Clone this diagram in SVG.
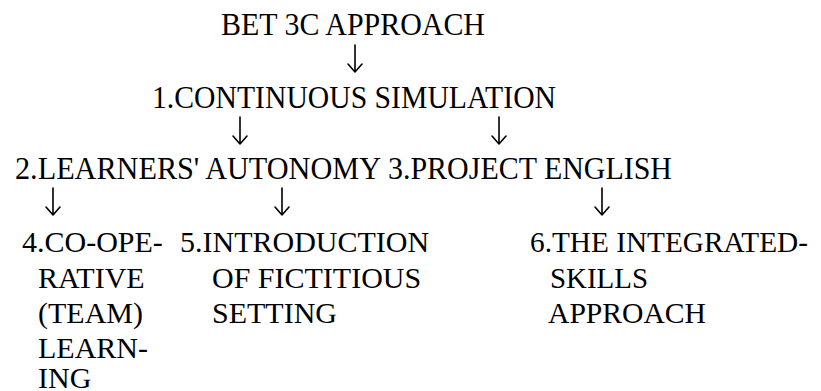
<svg xmlns="http://www.w3.org/2000/svg" width="821" height="391" viewBox="0 0 821 391">
  <style>
    .t { font-family: "Liberation Serif", "Times New Roman", serif; font-size: 31px; fill: #000; }
    .b { font-family: "Liberation Serif", "Times New Roman", serif; font-size: 30px; fill: #000; }
    .c { fill: none; stroke: #000; stroke-width: 1.6; stroke-linecap: round; stroke-linejoin: round; }
  </style>
  <defs>
    <!-- down arrow: shaft plus open chevron head -->
    <path id="down" class="c" d="M0,0 V27 M-7,19 L0,27 L7,19"/>
  </defs>
  <rect width="821" height="391" fill="#fff"/>

  <g id="connectors">
    <use href="#down" x="355" y="45"/>
    <use href="#down" x="240" y="117"/>
    <use href="#down" x="499" y="117"/>
    <use href="#down" x="53" y="188"/>
    <use href="#down" x="282" y="188"/>
    <use href="#down" x="602" y="188"/>
  </g>

  <g id="root">
    <text class="t" x="221" y="35" textLength="264" lengthAdjust="spacingAndGlyphs">BET 3C APPROACH</text>
  </g>
  <g id="n1">
    <text class="t" x="152" y="108" textLength="404" lengthAdjust="spacingAndGlyphs">1.CONTINUOUS SIMULATION</text>
  </g>
  <g id="n2">
    <text class="t" x="15" y="179" textLength="366" lengthAdjust="spacingAndGlyphs">2.LEARNERS' AUTONOMY</text>
  </g>
  <g id="n3">
    <text class="t" x="388" y="179" textLength="284" lengthAdjust="spacingAndGlyphs">3.PROJECT ENGLISH</text>
  </g>
  <g id="n4">
    <text class="b" x="22" y="252">4.CO-OPE-</text>
    <text class="b" x="38" y="288">RATIVE</text>
    <text class="b" x="38" y="323">(TEAM)</text>
    <text class="b" x="38" y="358">LEARN-</text>
    <text class="b" x="38" y="388">ING</text>
  </g>
  <g id="n5">
    <text class="b" x="180" y="252">5.INTRODUCTION</text>
    <text class="b" x="212" y="288">OF FICTITIOUS</text>
    <text class="b" x="212" y="323">SETTING</text>
  </g>
  <g id="n6">
    <text class="b" x="530" y="252" textLength="278" lengthAdjust="spacingAndGlyphs">6.THE INTEGRATED-</text>
    <text class="b" x="550" y="288" textLength="98" lengthAdjust="spacingAndGlyphs">SKILLS</text>
    <text class="b" x="548" y="323" textLength="158" lengthAdjust="spacingAndGlyphs">APPROACH</text>
  </g>
</svg>
